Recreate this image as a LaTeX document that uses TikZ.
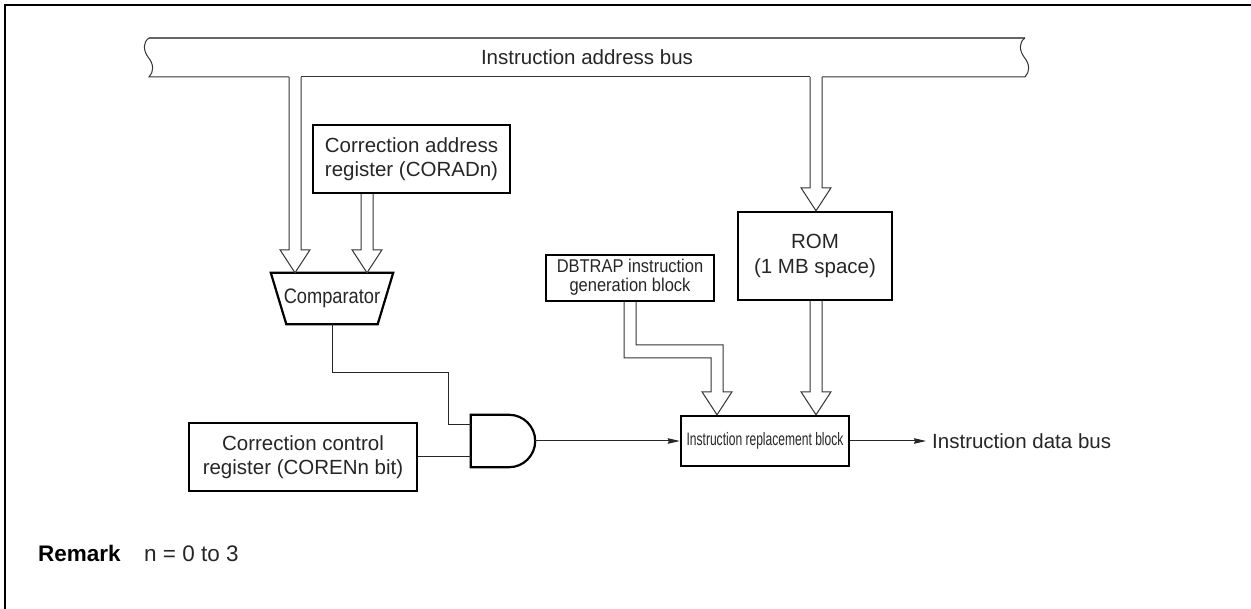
\documentclass[tikz,border=0pt]{standalone}
\usepackage{fontspec}
\setmainfont{Liberation Sans}
\usepackage{graphicx}
\usetikzlibrary{arrows.meta,calc}
\tikzset{
 box/.style={draw=black, line width=2.4pt, inner sep=0pt, align=center, font=\fontsize{20.5}{24.5}\selectfont, text=black!85},
 wire/.style={line width=1pt, draw=black!85},
 busline/.style={line width=1pt, draw=black!80},
 sig/.style={wire, -{Stealth[length=12pt,width=5.5pt,inset=1pt]}},
 lbl/.style={inner sep=0pt, font=\fontsize{20.5}{24.5}\selectfont, text=black!85},
 gate/.style={line width=2.2pt, line join=miter, draw=black},
}
\newcommand\hollowdn[2]{\draw[busline, fill=white] let \p1=#1, \p2=#2 in (\x1-6pt,\y1) -- (\x1-6pt,\y2+23pt) -- (\x1-15pt,\y2+23pt) -- (\x1,\y2) -- (\x1+15pt,\y2+23pt) -- (\x1+6pt,\y2+23pt) -- (\x1+6pt,\y1);}
\begin{document}
\begin{tikzpicture}[x=1pt,y=-1pt]
\useasboundingbox (0,0) rectangle (1251,609);
% frame
\draw[line width=2.2pt] (5,612) -- (5,5) -- (1254,5);
% bus
\node[lbl, minimum width=876pt, minimum height=39pt] (bus) at (587,57.5) {Instruction address bus};
\draw[busline, draw=black!60, line width=1.4pt] (149,38) -- (1025,38);
\draw[busline] (149,38) .. controls (143,42) and (143,50) .. (148,57) .. controls (154,64) and (154,72) .. (149,77) -- (289,77);
\draw[busline] (301,77) -- (810,77);
\draw[busline] (822,77) -- (1025,77) .. controls (1030,72) and (1030,64) .. (1024,57) .. controls (1019,50) and (1019,42) .. (1025,38);
% blocks
\node[box, minimum width=197pt, minimum height=68pt] (corad) at (411.5,159) {Correction address\\register (CORADn)};
\node[box, minimum width=154pt, minimum height=88pt] (rom) at (815,256) {ROM\\(1 MB space)};
\node[box, minimum width=168pt, minimum height=46pt] (dbtrap) at (630,278) {\scalebox{0.89}[1]{\fontsize{18.5}{19}\selectfont\begin{tabular}{@{}c@{}}DBTRAP instruction\\generation block\end{tabular}}};
\node[box, minimum width=168pt, minimum height=50pt] (repl) at (765,441) {\scalebox{0.67}[1]{\fontsize{18}{20}\selectfont Instruction replacement block}};
\node[box, minimum width=228pt, minimum height=68pt] (ctrl) at (303,457) {Correction control\\register (CORENn bit)};
% comparator
\node[inner sep=0pt, minimum width=122pt, minimum height=51pt, text=black!85] (comp) at (332,298.5) {\scalebox{0.87}[1]{\fontsize{21}{24}\selectfont Comparator}};
\draw[gate] (comp.north west) -- (comp.north east) -- ($(comp.south east)+(-15.5,0)$) -- ($(comp.south west)+(15.5,0)$) -- cycle;
% AND gate
\node[inner sep=0pt, minimum width=64pt, minimum height=52pt] (andg) at (503,441) {};
\draw[gate] (andg.north west) -- ($(andg.north east)+(-26,0)$) .. controls +(14.36,0) and +(0,-14.36) .. (andg.east) .. controls +(0,14.36) and +(14.36,0) .. ($(andg.south east)+(-26,0)$) -- (andg.south west) -- cycle;
\coordinate (ain1) at ($(andg.west)+(0,-16)$);
\coordinate (ain2) at ($(andg.west)+(0,16)$);
% hollow bus arrows
\coordinate (lx) at (295,0);
\coordinate (cx) at (367,0);
\coordinate (rx) at (816,0);
\coordinate (tx) at (717,0);
\hollowdn{(bus.south -| lx)}{(comp.north -| lx)}
\hollowdn{(corad.south -| cx)}{(comp.north -| cx)}
\hollowdn{(bus.south -| rx)}{(rom.north -| rx)}
\hollowdn{(rom.south -| rx)}{(repl.north -| rx)}
\draw[busline, fill=white] let \p1=(dbtrap.south), \p2=(repl.north -| tx) in
 (\x1-6pt,\y1) -- (\x1-6pt,\y2+57pt) -- (\x2-6pt,\y2+57pt) -- (\x2-6pt,\y2+23pt) -- (\x2-15pt,\y2+23pt) -- (\x2,\y2) -- (\x2+15pt,\y2+23pt) -- (\x2+6pt,\y2+23pt) -- (\x2+6pt,\y2+70pt) -- (\x1+6pt,\y2+70pt) -- (\x1+6pt,\y1);
% wires
\draw[wire] (comp.south) -- ++(0,48) -| ($(ain1)+(-22,0)$) -- (ain1);
\draw[wire] (ctrl.east) -- (ain2);
\draw[sig] (andg.east) -- (repl.west);
\coordinate (dbus) at (926,441);
\draw[sig] (repl.east) -- (dbus);
\node[lbl, anchor=west] (dbtext) at (932,441) {Instruction data bus};
% remark
\node[anchor=base west, inner sep=0pt, font=\fontsize{22.5}{26}\selectfont\bfseries] (rem) at (38,561) {Remark};
\node[anchor=base west, inner sep=0pt, font=\fontsize{22.5}{26}\selectfont, text=black!85] (remn) at (144,561) {n = 0 to 3};
\end{tikzpicture}
\end{document}
